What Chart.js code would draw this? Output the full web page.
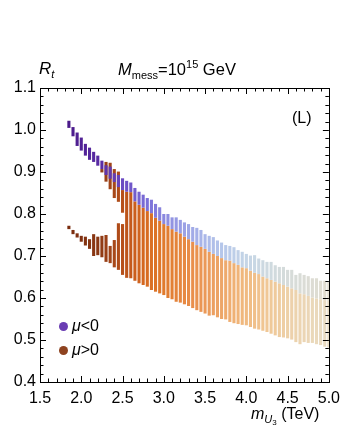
<!DOCTYPE html>
<html>
<head>
<meta charset="utf-8">
<script src="https://cdn.jsdelivr.net/npm/chart.js@4.4.1/dist/chart.umd.min.js"></script>
<style>
  body { margin: 0; background: #fff; }
  #wrap { position: relative; width: 347px; height: 432px; font-family: "Liberation Sans", Arial, sans-serif; color: #000; }
  #wrap canvas { position: absolute; left: 0; top: 0; }
  .lbl { position: absolute; font-size: 16px; white-space: nowrap; line-height: 1; }
  .sub { font-size: 11px; position: relative; top: 4px; }
  .sup { font-size: 11px; position: relative; top: -7px; }
  .dot { position: absolute; width: 9px; height: 9px; border-radius: 50%; }
</style>
</head>
<body>
<div id="wrap">
  <canvas id="chart" width="347" height="432"></canvas>
  <div class="lbl" style="left:39px; top:60px; font-size:17px;"><i>R</i><span class="sub"><i>t</i></span></div>
  <div class="lbl" style="left:118px; top:61px; font-size:16.5px;"><i>M</i><span class="sub">mess</span>=10<span class="sup">15</span> GeV</div>
  <div class="lbl" style="left:292px; top:110px;">(L)</div>
  <div class="dot" style="left:59px; top:322px; background:#6a3db3;"></div>
  <div class="lbl" style="left:72px; top:318px;"><i>μ</i>&lt;0</div>
  <div class="dot" style="left:59px; top:346px; background:#8e4320;"></div>
  <div class="lbl" style="left:72px; top:342px;"><i>μ</i>&gt;0</div>
  <div class="lbl" style="left:251px; top:406px;"><i>m</i><span class="sub"><i>U</i><span style="font-size:8px; position:relative; top:2px;">3</span></span> (TeV)</div>
</div>
<script>
// m_U3 grid (TeV)
const mU3 = [1.85, 1.90, 1.95, 2.00, 2.05, 2.10, 2.15, 2.20, 2.25, 2.30, 2.35, 2.40, 2.45, 2.50, 2.55, 2.60,
             2.65, 2.70, 2.75, 2.80, 2.85, 2.90, 2.95, 3.00, 3.05, 3.10, 3.15, 3.20, 3.25, 3.30, 3.35, 3.40,
             3.45, 3.50, 3.55, 3.60, 3.65, 3.70, 3.75, 3.80, 3.85, 3.90, 3.95, 4.00, 4.05, 4.10, 4.15, 4.20,
             4.25, 4.30, 4.35, 4.40, 4.45, 4.50, 4.55, 4.60, 4.65, 4.70, 4.75, 4.80, 4.85, 4.90, 4.95, 5.00];

// mu<0 : visible band of R_t
const negHi = [1.022, 1.007, 0.994, 0.982, 0.967, 0.958, 0.948, 0.939, 0.927, 0.916, 0.913, 0.897, 0.893, 0.885, 0.879, 0.875,
               0.862, 0.853, 0.846, 0.838, 0.834, 0.824, 0.816, 0.800, 0.800, 0.792, 0.792, 0.786, 0.780, 0.776, 0.769, 0.767,
               0.762, 0.752, 0.748, 0.745, 0.737, 0.732, 0.726, 0.724, 0.721, 0.714, 0.710, 0.705, 0.701, 0.702, 0.694, 0.690,
               0.686, 0.686, 0.678, 0.674, 0.674, 0.667, 0.667, 0.655, 0.659, 0.655, 0.652, 0.647, 0.647, 0.641, 0.641, 0.639];
const negLo = [1.005, 0.985, 0.962, 0.951, 0.939, 0.929, 0.924, 0.915, 0.907, 0.893, 0.884, 0.876, 0.864, 0.857, 0.853, 0.852,
               0.830, 0.822, 0.815, 0.807, 0.802, 0.791, 0.784, 0.776, 0.772, 0.764, 0.758, 0.754, 0.746, 0.740, 0.734, 0.726,
               0.722, 0.717, 0.710, 0.705, 0.700, 0.695, 0.690, 0.689, 0.683, 0.679, 0.673, 0.671, 0.665, 0.660, 0.657, 0.651,
               0.647, 0.643, 0.639, 0.635, 0.631, 0.627, 0.623, 0.619, 0.611, 0.609, 0.605, 0.601, 0.599, 0.597, 0.595, 0.593];

// mu>0 : upper (main) band
const posHi = [null, null, null, null, null, null, null, null, 0.907, 0.924, 0.922, 0.907, 0.901, 0.857, 0.853, 0.852,
               0.830, 0.822, 0.815, 0.807, 0.802, 0.791, 0.784, 0.776, 0.772, 0.764, 0.758, 0.754, 0.746, 0.740, 0.734, 0.726,
               0.722, 0.717, 0.710, 0.705, 0.700, 0.695, 0.690, 0.689, 0.683, 0.679, 0.673, 0.671, 0.665, 0.660, 0.657, 0.651,
               0.647, 0.643, 0.639, 0.635, 0.631, 0.627, 0.623, 0.619, 0.611, 0.609, 0.605, 0.601, 0.599, 0.597, 0.595, 0.593];
const posLo = [null, null, null, null, null, null, null, null, 0.899, 0.877, 0.859, 0.838, 0.829, 0.803, 0.648, 0.647,
               0.641, 0.635, 0.631, 0.627, 0.619, 0.615, 0.611, 0.607, 0.600, 0.597, 0.591, 0.589, 0.585, 0.581, 0.576, 0.571,
               0.567, 0.563, 0.558, 0.559, 0.554, 0.550, 0.549, 0.543, 0.540, 0.538, 0.536, 0.535, 0.531, 0.527, 0.525, 0.522,
               0.519, 0.515, 0.511, 0.507, 0.506, 0.504, 0.501, 0.495, 0.490, 0.495, 0.493, 0.493, 0.490, 0.488, 0.484, 0.482];

// mu>0 : lower branch (light stops)
const posLowHi = [0.772, 0.762, 0.754, 0.748, 0.746, 0.740, 0.752, 0.746, 0.748, 0.750, 0.724, 0.738, 0.778, 0.776];
const posLowLo = [0.764, 0.752, 0.744, 0.734, 0.725, 0.717, 0.700, 0.702, 0.697, 0.686, 0.683, 0.673, 0.667, 0.655];

const xTicks = [1.5, 2.0, 2.5, 3.0, 3.5, 4.0, 4.5, 5.0];
const yTicks = [0.4, 0.5, 0.6, 0.7, 0.8, 0.9, 1.0, 1.1];

// colour ramps along m_U3
const negRamp = [[1.85, "#4b1a8a"], [2.25, "#5a2da6"], [2.5, "#6a4ac2"], [2.8, "#7b6fd8"], [3.1, "#9294e2"],
                 [3.4, "#a5b0e8"], [3.7, "#b5c6ea"], [4.0, "#c5d5e6"], [4.4, "#d3dbdc"], [5.0, "#e2ddd0"]];
const posRamp = [[1.85, "#7a2c0e"], [2.2, "#8a3814"], [2.35, "#a04418"], [2.5, "#b6501a"], [2.65, "#cb5e1d"],
                 [2.8, "#d86c22"], [3.0, "#e07a2c"], [3.3, "#e88c48"], [3.6, "#ec9f60"], [3.9, "#f0b478"],
                 [4.2, "#f0c592"], [4.6, "#ecd3ae"], [5.0, "#e8dcc4"]];

function hexToRgb(h) {
    return [parseInt(h.slice(1, 3), 16), parseInt(h.slice(3, 5), 16), parseInt(h.slice(5, 7), 16)];
}

function rampColor(ramp, x) {
    if (x <= ramp[0][0]) return ramp[0][1];
    for (let i = 1; i < ramp.length; i++) {
        if (x <= ramp[i][0]) {
            const t = (x - ramp[i - 1][0]) / (ramp[i][0] - ramp[i - 1][0]);
            const a = hexToRgb(ramp[i - 1][1]), b = hexToRgb(ramp[i][1]);
            const c = a.map((v, k) => Math.round(v + (b[k] - v) * t));
            return `rgb(${c[0]},${c[1]},${c[2]})`;
        }
    }
    return ramp[ramp.length - 1][1];
}

function bands(lo, hi) {
    const out = [];
    lo.forEach((v, i) => {
        if (v !== null && hi[i] !== null) out.push({ x: mU3[i], y: [v, hi[i]] });
    });
    return out;
}

const barStyle = { barPercentage: 0.75, categoryPercentage: 1, grouped: false, borderWidth: 0, borderSkipped: false };

// inward Mathematica-style frame ticks
const frameTicks = {
    id: "frameTicks",
    afterDraw(chart) {
        const { ctx, chartArea: a, scales: { x, y } } = chart;
        ctx.save();
        ctx.strokeStyle = "#000";
        ctx.lineWidth = 1;
        ctx.beginPath();
        for (let k = 0; k <= 35; k++) {
            const v = 1.5 + k * 0.1;
            const px = Math.round(x.getPixelForValue(v)) + 0.5;
            const len = k % 5 === 0 ? 6 : 3.5;
            ctx.moveTo(px, a.bottom); ctx.lineTo(px, a.bottom - len);
            ctx.moveTo(px, a.top); ctx.lineTo(px, a.top + len);
        }
        for (let k = 0; k <= 35; k++) {
            const v = 0.4 + k * 0.02;
            const py = Math.round(y.getPixelForValue(v)) + 0.5;
            const len = k % 5 === 0 ? 6 : 3.5;
            ctx.moveTo(a.left, py); ctx.lineTo(a.left + len, py);
            ctx.moveTo(a.right, py); ctx.lineTo(a.right - len, py);
        }
        ctx.stroke();
        ctx.strokeRect(Math.round(a.left) + 0.5, Math.round(a.top) + 0.5,
                       Math.round(a.right - a.left), Math.round(a.bottom - a.top));
        ctx.restore();
    }
};

const tickFont = { family: "'Liberation Sans', Arial, sans-serif", size: 16 };

new Chart(document.getElementById("chart"), {
    type: "bar",
    data: {
        datasets: [
            { label: "mu<0", data: bands(negLo, negHi), order: 0, ...barStyle,
              backgroundColor: c => rampColor(negRamp, c.raw ? c.raw.x : 2.5) },
            { label: "mu>0", data: bands(posLo, posHi), order: 1, ...barStyle,
              backgroundColor: c => rampColor(posRamp, c.raw ? c.raw.x : 2.5) },
            { label: "mu>0 lower", data: bands(posLowLo, posLowHi), order: 2, ...barStyle,
              backgroundColor: c => rampColor(posRamp, c.raw ? c.raw.x : 2.0) }
        ]
    },
    options: {
        responsive: false,
        animation: false,
        layout: { padding: { top: 88, right: 14, left: 0, bottom: 0 } },
        plugins: { legend: { display: false }, tooltip: { enabled: false } },
        scales: {
            x: {
                type: "linear", min: 1.5, max: 5.0, offset: false,
                grid: { display: false, drawTicks: false, offset: false },
                border: { display: false },
                afterBuildTicks: s => { s.ticks = xTicks.map(v => ({ value: v })); },
                afterFit: s => { s.height = 50; },
                ticks: { color: "#000", font: tickFont, padding: 7, maxRotation: 0, autoSkip: false,
                         callback: v => Number(v).toFixed(1) }
            },
            y: {
                min: 0.4, max: 1.1,
                grid: { display: false, drawTicks: false },
                border: { display: false },
                afterBuildTicks: s => { s.ticks = yTicks.map(v => ({ value: v })); },
                afterFit: s => { s.width = 40; },
                ticks: { color: "#000", font: tickFont, padding: 4,
                         callback: v => Number(v).toFixed(1) }
            }
        }
    },
    plugins: [frameTicks]
});
</script>
</body>
</html>
